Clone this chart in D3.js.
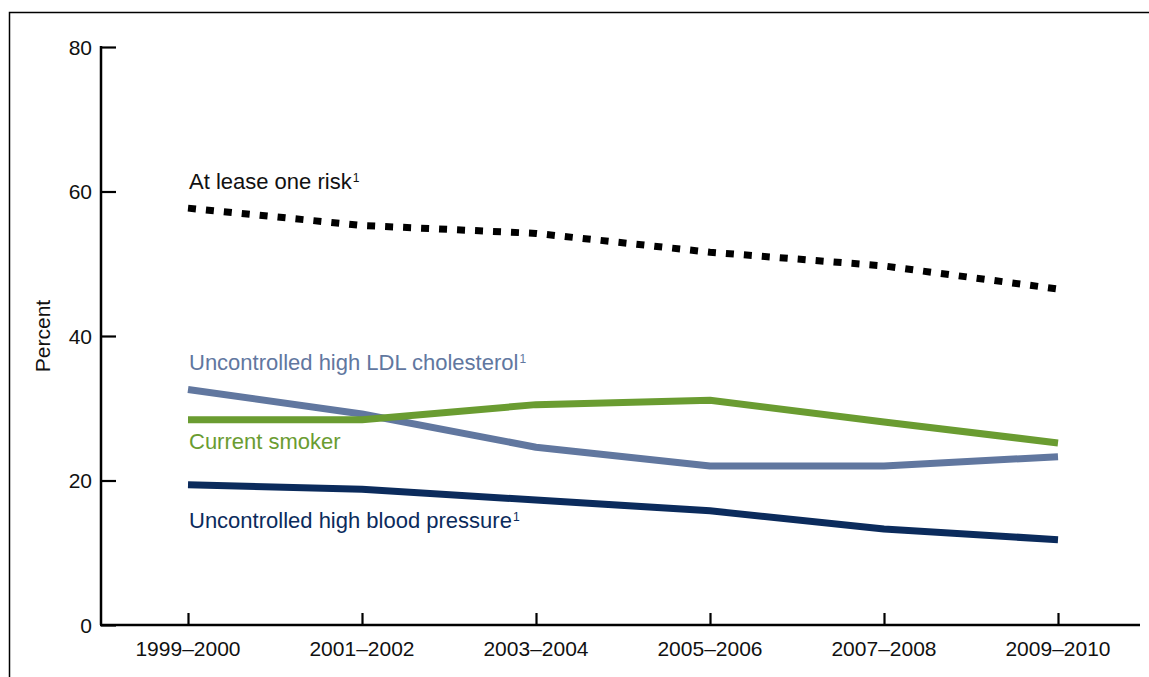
<!DOCTYPE html>
<html>
<head>
<meta charset="utf-8">
<script src="https://cdn.jsdelivr.net/npm/d3@7/dist/d3.min.js"></script>
<style>
  html, body { margin: 0; padding: 0; background: #fff; }
  svg { display: block; font-family: "Liberation Sans", Arial, Helvetica, sans-serif; }
</style>
</head>
<body>
<svg id="chart" width="1149" height="677"></svg>
<script>
const periods = ["1999–2000", "2001–2002", "2003–2004", "2005–2006", "2007–2008", "2009–2010"];
const atLeastOneRisk = [57.7, 55.3, 54.2, 51.6, 49.7, 46.5];
const ldlCholesterol = [32.6, 29.2, 24.6, 22.0, 22.0, 23.3];
const currentSmoker = [28.4, 28.4, 30.5, 31.1, 28.1, 25.2];
const bloodPressure = [19.4, 18.8, 17.3, 15.8, 13.3, 11.8];
const yTicks = [0, 20, 40, 60, 80];

const svg = d3.select("#chart");

// frame (left and top only, as in the reference)
svg.append("path")
  .attr("d", "M9.5,677 L9.5,12.5 L1149,12.5")
  .attr("fill", "none").attr("stroke", "#000").attr("stroke-width", 1.5);

const x = d3.scalePoint().domain(periods).range([188, 1058]);
const y = d3.scaleLinear().domain([0, 80]).range([625, 47]);
const axisX0 = 101, axisX1 = 1140;

// y axis
const gy = svg.append("g").attr("transform", `translate(${axisX0},0)`);
gy.call(d3.axisRight(y).tickValues(yTicks).tickSize(15).tickFormat(""))
  .call(g => g.select(".domain").remove());
gy.selectAll(".tick line").attr("stroke", "#000").attr("stroke-width", 2.2);
gy.append("line").attr("x1", 0).attr("x2", 0).attr("y1", y(80) - 1).attr("y2", y(0))
  .attr("stroke", "#000").attr("stroke-width", 2.5);
gy.selectAll(".ylab").data(yTicks).join("text")
  .attr("x", -9).attr("y", d => y(d)).attr("dy", "0.36em")
  .attr("text-anchor", "end").attr("font-size", 21).attr("fill", "#111")
  .text(d => d);

// y title
svg.append("text")
  .attr("transform", `translate(50,${y(40)}) rotate(-90)`)
  .attr("text-anchor", "middle").attr("font-size", 21).attr("fill", "#111")
  .text("Percent");

// x axis
const gx = svg.append("g").attr("transform", `translate(0,${y(0)})`);
gx.call(d3.axisTop(x).tickSize(12).tickFormat(""))
  .call(g => g.select(".domain").remove());
gx.selectAll(".tick line").attr("stroke", "#000").attr("stroke-width", 2.2);
gx.append("line").attr("x1", axisX0 - 1).attr("x2", axisX1).attr("y1", 0).attr("y2", 0)
  .attr("stroke", "#000").attr("stroke-width", 2.5);
gx.selectAll(".xlab").data(periods).join("text")
  .attr("x", d => x(d)).attr("y", 31)
  .attr("text-anchor", "middle").attr("font-size", 21).attr("fill", "#111")
  .text(d => d);

// lines
const line = d3.line().x((d, i) => x(periods[i])).y(d => y(d));
const series = [
  { values: ldlCholesterol, color: "#61779f", dash: null },
  { values: currentSmoker, color: "#6a9c31", dash: null },
  { values: bloodPressure, color: "#0b2b5c", dash: null },
  { values: atLeastOneRisk, color: "#000", dash: "8,10" }
];
series.forEach(s => {
  svg.append("path").datum(s.values)
    .attr("d", line)
    .attr("fill", "none")
    .attr("stroke", s.color)
    .attr("stroke-width", 7)
    .attr("stroke-linejoin", "round")
    .attr("stroke-dasharray", s.dash);
});

// labels
const labels = [
  { text: "At lease one risk", sup: true, color: "#111", v: 60.4 },
  { text: "Uncontrolled high LDL cholesterol", sup: true, color: "#61779f", v: 35.3 },
  { text: "Current smoker", sup: false, color: "#6a9c31", v: 24.4 },
  { text: "Uncontrolled high blood pressure", sup: true, color: "#0b2b5c", v: 13.4 }
];
labels.forEach(l => {
  const t = svg.append("text")
    .attr("x", 189).attr("y", y(l.v))
    .attr("font-size", 22).attr("fill", l.color)
    .text(l.text);
  if (l.sup) {
    t.append("tspan").attr("font-size", 12).attr("dx", 1).attr("dy", -7).text("1");
  }
});
</script>
</body>
</html>
